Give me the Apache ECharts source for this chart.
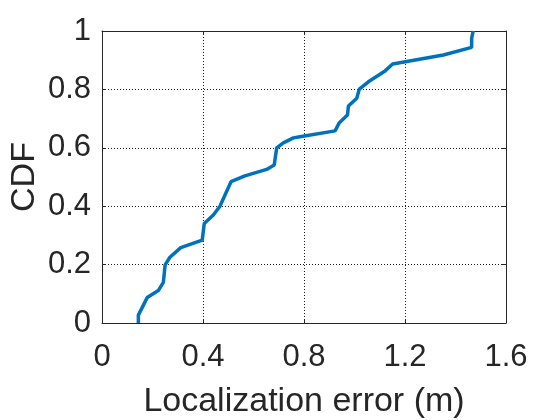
<!DOCTYPE html>
<html>
<head>
<meta charset="utf-8">
<script src="https://cdn.jsdelivr.net/npm/echarts@6/dist/echarts.min.js"></script>
<style>html,body{margin:0;padding:0;background:#fff}#c{width:560px;height:420px}</style>
</head>
<body>
<div id="c"></div>
<script>
var errX = [0.144, 0.144, 0.179, 0.223, 0.243, 0.25, 0.269, 0.312, 0.397, 0.405, 0.441, 0.467, 0.511, 0.566, 0.652, 0.682, 0.692, 0.718, 0.758, 0.784, 0.923, 0.94, 0.972, 0.976, 1.009, 1.019, 1.055, 1.118, 1.151, 1.352, 1.464, 1.464, 1.47];
var cdfY = [0, 0.027, 0.087, 0.111, 0.139, 0.199, 0.225, 0.258, 0.284, 0.341, 0.37, 0.40, 0.484, 0.504, 0.526, 0.541, 0.60, 0.617, 0.634, 0.638, 0.658, 0.686, 0.712, 0.743, 0.77, 0.801, 0.826, 0.861, 0.887, 0.918, 0.944, 0.975, 1.0];
var xTicks = [0, 0.4, 0.8, 1.2, 1.6];
var yTicks = [0, 0.2, 0.4, 0.6, 0.8, 1];
var xTitle = 'Localization error (m)';
var yTitle = 'CDF';

var pts = errX.map(function (x, i) { return [x, cdfY[i]]; });
var txt = '#262626';
var font = 'Liberation Sans, Arial, Helvetica, sans-serif';
var grid = { lineStyle: { color: '#1a1a1a', width: 1, type: [1, 2] } };

var chart = echarts.init(document.getElementById('c'), null, { renderer: 'canvas' });
chart.setOption({
  animation: false,
  backgroundColor: '#fff',
  grid: { left: 102, right: 54, top: 31, bottom: 97, show: false, containLabel: false, outerBoundsMode: 'none' },
  graphic: [{
    type: 'text', x: 25, y: 177, rotation: Math.PI / 2,
    style: { text: yTitle, fill: txt, font: '34px ' + font, align: 'center', verticalAlign: 'middle' }
  }],
  xAxis: [{
    type: 'value', min: xTicks[0], max: xTicks[xTicks.length - 1], interval: 0.4,
    name: xTitle, nameLocation: 'middle', nameGap: 62, nameMoveOverlap: false,
    nameTextStyle: { fontSize: 34, color: txt, fontFamily: font },
    axisLine: { show: true, onZero: false, lineStyle: { color: txt, width: 1 } },
    axisTick: { show: true, inside: true, length: 4, lineStyle: { color: txt } },
    axisLabel: { fontSize: 31, color: txt, fontFamily: font, margin: 19 },
    splitLine: { show: true, lineStyle: grid.lineStyle }
  }, {
    type: 'value', position: 'top', min: 0, max: 1.6, interval: 0.4,
    axisLine: { show: true, onZero: false, lineStyle: { color: txt, width: 1 } },
    axisTick: { show: true, inside: true, length: 4, lineStyle: { color: txt } },
    axisLabel: { show: false }, splitLine: { show: false }
  }],
  yAxis: [{
    type: 'value', min: yTicks[0], max: yTicks[yTicks.length - 1], interval: 0.2,
    axisLine: { show: true, onZero: false, lineStyle: { color: txt, width: 1 } },
    axisTick: { show: true, inside: true, length: 4, lineStyle: { color: txt } },
    axisLabel: { fontSize: 31, color: txt, fontFamily: font, margin: 11 },
    splitLine: { show: true, lineStyle: grid.lineStyle }
  }, {
    type: 'value', position: 'right', min: 0, max: 1, interval: 0.2,
    axisLine: { show: true, onZero: false, lineStyle: { color: txt, width: 1 } },
    axisTick: { show: true, inside: true, length: 4, lineStyle: { color: txt } },
    axisLabel: { show: false }, splitLine: { show: false }
  }],
  series: [{
    type: 'line', data: pts, showSymbol: false, symbol: 'none',
    lineStyle: { color: '#0072BD', width: 3.5 }, clip: false
  }]
});
</script>
</body>
</html>
